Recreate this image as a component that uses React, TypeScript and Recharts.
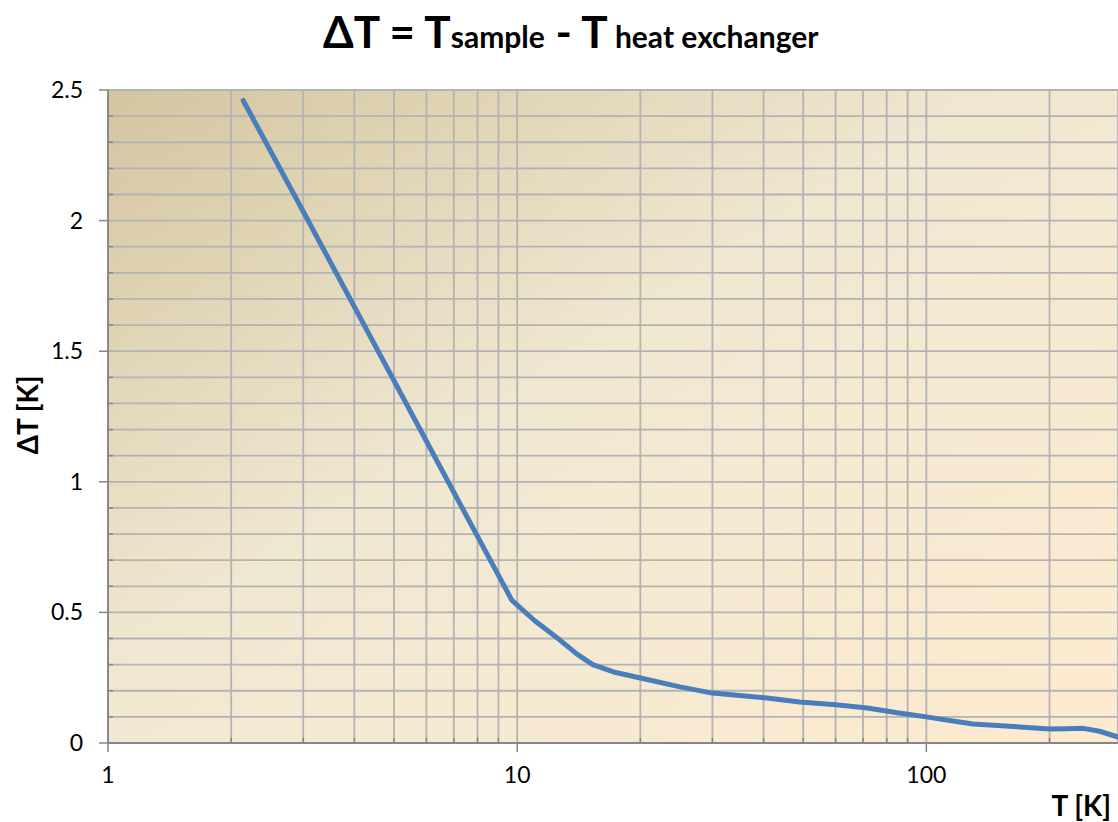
import React from 'react';
import { LineChart, Line, XAxis, YAxis, CartesianGrid } from 'recharts';

// temperature (K)
const temps = [2.14, 3, 5, 7, 9.7, 11, 12.7, 14, 15.3, 17.2, 20, 25, 30, 40.8, 49, 60, 71.7, 85, 100, 115, 130, 160, 200, 220, 242, 265, 294];
// temperature difference (K)
const deltas = [2.46, 2.035, 1.387, 0.96, 0.547, 0.47, 0.395, 0.34, 0.3, 0.272, 0.249, 0.215, 0.191, 0.172, 0.157, 0.146, 0.134, 0.116, 0.1, 0.085, 0.073, 0.064, 0.054, 0.055, 0.056, 0.045, 0.023];

const xTicks = [1, 2, 3, 4, 5, 6, 7, 8, 9, 10, 20, 30, 40, 50, 60, 70, 80, 90, 100, 200];
const xLabels = [1, 10, 100];
const yTicks = [0, 0.1, 0.2, 0.3, 0.4, 0.5, 0.6, 0.7, 0.8, 0.9, 1, 1.1, 1.2, 1.3, 1.4, 1.5, 1.6, 1.7, 1.8, 1.9, 2, 2.1, 2.2, 2.3, 2.4, 2.5];

const data = temps.map((t, i) => ({ t, dT: deltas[i] }));

const FONT = 'Lato, "Open Sans", sans-serif';
const AXIS = '#868686';

const XTick = (props: any) => {
  const { x, y, payload } = props;
  const major = xLabels.includes(payload.value);
  return (
    <g>
      {major ? (
        <line x1={x} x2={x} y1={y} y2={y + 9} stroke={AXIS} strokeWidth={1.5} />
      ) : (
        <line x1={x} x2={x} y1={y - 5} y2={y} stroke={AXIS} strokeWidth={1.5} />
      )}
      {major && (
        <text x={x} y={y + 40} textAnchor="middle" fontSize={23} fill="#000" fontFamily={FONT}>
          {payload.value}
        </text>
      )}
    </g>
  );
};

const YTick = (props: any) => {
  const { x, y, payload } = props;
  const v = payload.value;
  const major = Math.abs(v * 2 - Math.round(v * 2)) < 1e-6;
  return (
    <g>
      {major ? (
        <line x1={x - 9} x2={x} y1={y} y2={y} stroke={AXIS} strokeWidth={1.5} />
      ) : (
        <line x1={x} x2={x + 5} y1={y} y2={y} stroke={AXIS} strokeWidth={1.5} />
      )}
      {major && (
        <text x={x - 25} y={y + 8} textAnchor="end" fontSize={23} fill="#000" fontFamily={FONT}>
          {v}
        </text>
      )}
    </g>
  );
};

export default function App() {
  return (
    <div style={{ position: 'absolute', left: 0, top: 0, width: 1118, height: 822, background: '#fff' }}>
      <LineChart width={1118} height={822} data={data} margin={{ top: 90, right: 0, bottom: 29, left: 0 }}>
        <defs>
          <linearGradient id="bg" x1="0" y1="0" x2="1" y2="1">
            <stop offset="0" stopColor="#d4c5a0" />
            <stop offset="0.45" stopColor="#f1e8d2" />
            <stop offset="1" stopColor="#fdebd0" />
          </linearGradient>
        </defs>
        <CartesianGrid fill="url(#bg)" fillOpacity={1} stroke="#b3b3b3" strokeWidth={1.8} />
        <XAxis
          dataKey="t"
          type="number"
          scale="log"
          domain={[1, 294]}
          ticks={xTicks}
          allowDataOverflow
          interval={0}
          height={50}
          tickSize={0}
          tickMargin={0}
          tickLine={false}
          tick={<XTick />}
          stroke={AXIS}
          strokeWidth={1.8}
        />
        <YAxis
          type="number"
          domain={[0, 2.5]}
          ticks={yTicks}
          interval={0}
          width={108}
          tickSize={0}
          tickMargin={0}
          tickLine={false}
          tick={<YTick />}
          stroke={AXIS}
          strokeWidth={1.8}
        />
        <Line
          dataKey="dT"
          type="linear"
          stroke="#4a7ebb"
          strokeWidth={5}
          strokeLinejoin="round"
          strokeLinecap="round"
          dot={false}
          isAnimationActive={false}
        />
        <text x={323} y={48} fontFamily={FONT} fontWeight={700} fill="#000">
          <tspan fontSize={44}>ΔT = T</tspan>
          <tspan fontSize={30}>sample</tspan>
          <tspan fontSize={44}> - T</tspan>
          <tspan fontSize={30}> heat exchanger</tspan>
        </text>
        <text
          x={0}
          y={0}
          transform="translate(38,415) rotate(-90)"
          textAnchor="middle"
          fontFamily={FONT}
          fontWeight={700}
          fontSize={28}
          fill="#000"
        >
          ΔT [K]
        </text>
        <text x={1111} y={816} textAnchor="end" fontFamily={FONT} fontWeight={700} fontSize={28} fill="#000">
          T [K]
        </text>
      </LineChart>
    </div>
  );
}
